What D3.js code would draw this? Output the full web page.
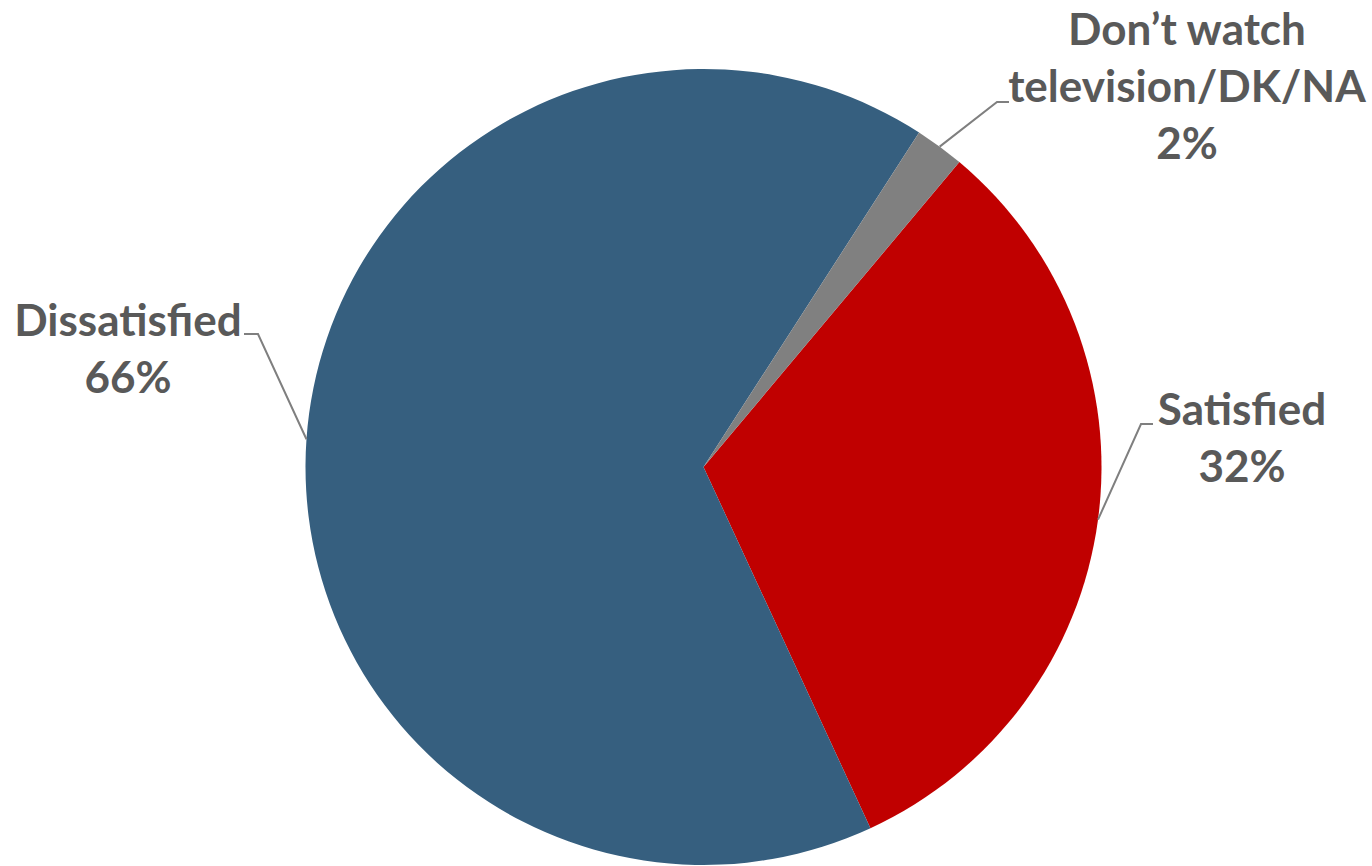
<!DOCTYPE html>
<html><head><meta charset="utf-8">
<script src="https://cdn.jsdelivr.net/npm/d3@7"></script>
<style>html,body{margin:0;padding:0;background:#fff;overflow:hidden}</style>
</head><body>
<svg id="chart" width="1372" height="866"></svg>
<script>
const categories = ["Satisfied", "Dissatisfied", "Don\u2019t watch television/DK/NA"];
const labelLines = [["Satisfied"], ["Dissatisfied"], ["Don\u2019t watch", "television/DK/NA"]];
const values = [32, 66, 2];
const colors = ["#C00000", "#365F7F", "#808080"];

const svg = d3.select("#chart");
const cx = 703.5, cy = 467, R = 398;
const g = svg.append("g").attr("transform", `translate(${cx},${cy})`);
const start = 40 * Math.PI / 180;
const pie = d3.pie().sort(null).value(d => d).startAngle(start).endAngle(start + 2 * Math.PI);
const arcs = pie(values);
const arc = d3.arc().innerRadius(0).outerRadius(R);
g.selectAll("path.slice").data(arcs).join("path")
  .attr("class", "slice").attr("d", arc).attr("fill", (d, i) => colors[i]);

// label layout: text centre x, first baseline y, elbow point (bend) and horizontal end
const layout = [
  {x: 1242, y: 425, bend: [1141, 424], end: [1153, 424]},
  {x: 128, y: 336, bend: [258, 334], end: [244, 334]},
  {x: 1187, y: 45, bend: [997, 102], end: [1009, 102]}
];
const lineH = 57;
arcs.forEach((d, i) => {
  const a = (d.startAngle + d.endAngle) / 2;
  const p0 = [cx + R * Math.sin(a), cy - R * Math.cos(a)];
  const L = layout[i];
  svg.append("polyline")
    .attr("points", [p0, L.bend, L.end].map(p => p.join(",")).join(" "))
    .attr("fill", "none").attr("stroke", "#7F7F7F").attr("stroke-width", 2);
  const lines = labelLines[i].concat([values[i] + "%"]);
  const t = svg.append("text").attr("text-anchor", "middle")
    .attr("font-family", "Lato, 'Open Sans', sans-serif").attr("font-weight", "bold")
    .attr("font-size", 44).attr("fill", "#595959");
  lines.forEach((s, k) => t.append("tspan").attr("x", L.x).attr("y", L.y + k * lineH).text(s));
});
</script>
</body></html>
